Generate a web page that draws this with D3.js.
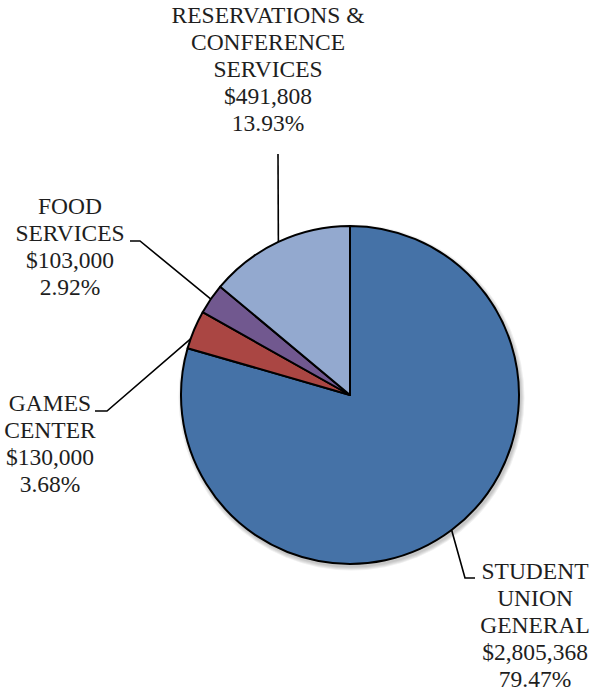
<!DOCTYPE html>
<html>
<head>
<meta charset="utf-8">
<script src="https://cdn.jsdelivr.net/npm/d3@7"></script>
<style>
  html, body { margin: 0; padding: 0; background: #fff; }
  #wrap { position: relative; width: 593px; height: 692px; }
  svg { display: block; position: absolute; left: 0; top: 0; }
  .lbl {
    position: absolute;
    font-family: "Liberation Serif", Tinos, serif;
    font-size: 23.5px;
    line-height: 27px;
    color: #1e1e1e;
    text-align: center;
    white-space: nowrap;
    transform: translateX(-50%);
  }
</style>
</head>
<body>
<div id="wrap">
<svg id="chart" width="593" height="692"></svg>
</div>
<script>
// Budget by department
const categories = [
  ["STUDENT", "UNION", "GENERAL"],
  ["GAMES", "CENTER"],
  ["FOOD", "SERVICES"],
  ["RESERVATIONS &", "CONFERENCE", "SERVICES"]
];
const values = [2805368, 130000, 103000, 491808];
const colors = ["#4572A7", "#AA4643", "#71588F", "#93A9CF"];

// Label placement: text centre, first baseline, leader bend points, and
// where along the slice (0..1 of its angle) the leader touches the edge.
const labelLayout = [
  { x: 535, y: 579, bends: [[475, 578], [465, 578]], t: 0.5 },
  { x: 50,  y: 411, bends: [[95, 411], [107, 411]], t: 0.25 },
  { x: 70,  y: 214, bends: [[130, 241], [140, 241]], t: 0.5 },
  { x: 268, y: 23,  bends: [[278, 154]], t: 0.5 }
];

const cx = 350, cy = 395, r = 169;
const baselineOffset = 21.4; // first baseline below the top of a label box
const svg = d3.select("#chart");
const wrap = d3.select("#wrap");

const total = d3.sum(values);
const pie = d3.pie().sort(null).startAngle(0).endAngle(2 * Math.PI)(values);
const arc = d3.arc().innerRadius(0).outerRadius(r);

const g = svg.append("g").attr("transform", `translate(${cx},${cy})`);

// soft shadow under the pie, built from stacked translucent discs
[4, 3, 2, 1].forEach(k => {
  g.append("circle")
    .attr("cx", 1.5).attr("cy", 2.5)
    .attr("r", r + k)
    .attr("fill", "#000")
    .attr("fill-opacity", 0.06);
});

g.selectAll("path.slice").data(pie).join("path")
  .attr("class", "slice")
  .attr("d", arc)
  .attr("fill", (d, i) => colors[i])
  .attr("stroke", "#000")
  .attr("stroke-width", 2)
  .attr("stroke-linejoin", "round");

const fmtMoney = v => "$" + d3.format(",")(v);
const fmtPct = v => d3.format(".2f")(v * 100) + "%";

pie.forEach((d, i) => {
  const L = labelLayout[i];
  const a = d.startAngle + L.t * (d.endAngle - d.startAngle);
  const edge = [cx + r * Math.sin(a), cy - r * Math.cos(a)];
  const pts = L.bends.concat([edge]);
  svg.append("path")
    .attr("d", d3.line()(pts))
    .attr("fill", "none")
    .attr("stroke", "#000")
    .attr("stroke-width", 1.6);

  const lines = categories[i].concat([fmtMoney(values[i]), fmtPct(values[i] / total)]);
  const box = wrap.append("div")
    .attr("class", "lbl")
    .style("left", L.x + "px")
    .style("top", (L.y - baselineOffset) + "px");
  lines.forEach(s => box.append("div").text(s));
});
</script>
</body>
</html>
